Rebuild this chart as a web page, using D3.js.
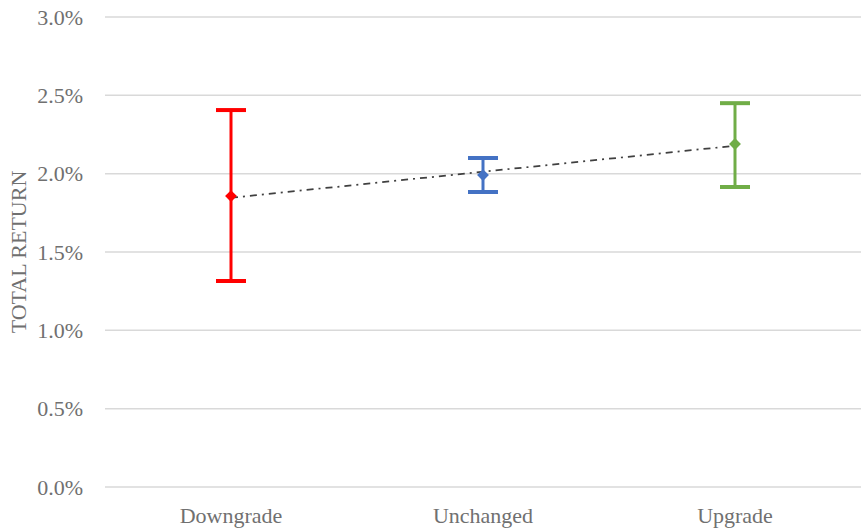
<!DOCTYPE html>
<html>
<head>
<meta charset="utf-8">
<script src="https://cdn.jsdelivr.net/npm/d3@7"></script>
<style>
  body { margin: 0; background: #fff; }
</style>
</head>
<body>
<div id="chart"></div>
<script>
// data
var categories = ["Downgrade", "Unchanged", "Upgrade"];
var means = [0.01857, 0.01991, 0.02189];
var upper = [0.02406, 0.02100, 0.02450];
var lower = [0.01315, 0.01883, 0.01915];
var colors = ["#FF0000", "#4472C4", "#70AD47"];
var yTicks = [0, 0.005, 0.01, 0.015, 0.02, 0.025, 0.03];

var W = 861, H = 529;
var margin = {top: 17, right: 0, bottom: 42, left: 105};
var width = W - margin.left - margin.right, height = H - margin.top - margin.bottom;
var font = "'Liberation Serif', 'DejaVu Serif', serif";
var textColor = "#707070";

var svg = d3.select("#chart").append("svg").attr("width", W).attr("height", H)
  .append("g").attr("transform", "translate(" + margin.left + "," + margin.top + ")");

var x = d3.scaleBand().domain(categories).range([0, width]);
var y = d3.scaleLinear().domain([0, 0.03]).range([height, 0]);

// gridlines
svg.selectAll(".grid").data(yTicks).enter().append("line")
  .attr("x1", 0).attr("x2", width)
  .attr("y1", function(d) { return y(d) }).attr("y2", function(d) { return y(d) })
  .attr("stroke", "#d9d9d9").attr("stroke-width", 1.5);

// y tick labels
svg.selectAll(".ylab").data(yTicks).enter().append("text")
  .attr("x", -22).attr("y", function(d) { return y(d) }).attr("dy", "0.35em")
  .attr("text-anchor", "end").attr("font-family", font).attr("font-size", 22).attr("fill", textColor)
  .text(d3.format(".1%"));

// x labels
svg.selectAll(".xlab").data(categories).enter().append("text")
  .attr("x", function(d) { return x(d) + x.bandwidth() / 2 }).attr("y", height + 36)
  .attr("text-anchor", "middle").attr("font-family", font).attr("font-size", 22).attr("fill", textColor)
  .text(function(d) { return d });

// axis title
svg.append("text").attr("transform", "rotate(-90)")
  .attr("x", -(y(0.015))).attr("y", -79)
  .attr("text-anchor", "middle").attr("font-family", font).attr("font-size", 22).attr("fill", textColor)
  .text("TOTAL RETURN");

// linear trendline through the means
var xs = [1, 2, 3];
var mx = d3.mean(xs), my = d3.mean(means);
var slope = d3.sum(xs, function(v, i) { return (v - mx) * (means[i] - my) }) / d3.sum(xs, function(v) { return (v - mx) * (v - mx) });
var icpt = my - slope * mx;
svg.append("line")
  .attr("x1", x(categories[0]) + x.bandwidth() / 2).attr("y1", y(icpt + slope * 1))
  .attr("x2", x(categories[2]) + x.bandwidth() / 2).attr("y2", y(icpt + slope * 3))
  .attr("stroke", "#404040").attr("stroke-width", 1.75).attr("stroke-dasharray", "7,5,2,5");

// error bars
var cap = 15;
categories.forEach(function(c, i) {
  var cx = x(c) + x.bandwidth() / 2;
  svg.append("line").attr("x1", cx).attr("x2", cx).attr("y1", y(upper[i])).attr("y2", y(lower[i]))
    .attr("stroke", colors[i]).attr("stroke-width", 3);
  [upper[i], lower[i]].forEach(function(v) {
    svg.append("line").attr("x1", cx - cap).attr("x2", cx + cap).attr("y1", y(v)).attr("y2", y(v))
      .attr("stroke", colors[i]).attr("stroke-width", 4);
  });
  svg.append("path").attr("d", d3.symbol().type(d3.symbolDiamond2).size(90)())
    .attr("transform", "translate(" + cx + "," + y(means[i]) + ")")
    .attr("fill", colors[i]);
});
</script>
</body>
</html>
